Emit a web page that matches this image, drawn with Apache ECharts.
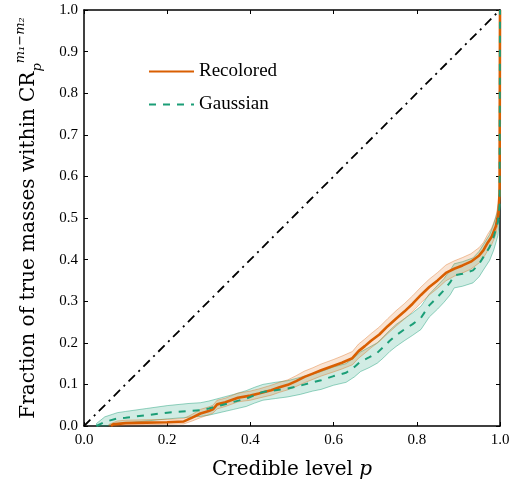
<!DOCTYPE html>
<html>
<head>
<meta charset="utf-8">
<script src="https://cdn.jsdelivr.net/npm/echarts@6/dist/echarts.min.js"></script>
<style>html,body{margin:0;padding:0;background:#fff}#c{width:526px;height:487px}</style>
</head>
<body>
<div id="c"></div>
<script>
// ---- data ----
var seriesNames = ['Recolored', 'Gaussian'];
var xTicks = [0, 0.2, 0.4, 0.6, 0.8, 1.0];
var yTicks = [0, 0.1, 0.2, 0.3, 0.4, 0.5, 0.6, 0.7, 0.8, 0.9, 1.0];
var diagonal = [[0, 0], [1, 1]];

var recolored = [[0.065,0],[0.07,0.004],[0.10,0.007],[0.15,0.008],[0.20,0.009],[0.24,0.011],[0.26,0.02],[0.28,0.03],[0.30,0.036],[0.31,0.04],[0.32,0.052],[0.34,0.057],[0.37,0.068],[0.40,0.073],[0.42,0.078],[0.45,0.086],[0.47,0.093],[0.49,0.099],[0.51,0.108],[0.53,0.118],[0.55,0.126],[0.57,0.134],[0.60,0.145],[0.62,0.152],[0.645,0.163],[0.66,0.18],[0.675,0.192],[0.69,0.205],[0.71,0.22],[0.73,0.24],[0.75,0.258],[0.77,0.275],[0.79,0.294],[0.81,0.315],[0.83,0.334],[0.85,0.35],[0.87,0.368],[0.89,0.378],[0.91,0.386],[0.93,0.395],[0.95,0.41],[0.96,0.422],[0.97,0.44],[0.98,0.455],[0.99,0.48],[0.996,0.51],[0.999,0.56],[1.0,1.0]];

var gaussian = [[0.03,0],[0.05,0.01],[0.08,0.018],[0.10,0.02],[0.15,0.026],[0.20,0.032],[0.25,0.036],[0.28,0.038],[0.30,0.042],[0.33,0.05],[0.36,0.058],[0.39,0.066],[0.41,0.074],[0.43,0.082],[0.46,0.086],[0.49,0.09],[0.52,0.097],[0.55,0.105],[0.57,0.11],[0.60,0.12],[0.63,0.128],[0.65,0.142],[0.665,0.155],[0.685,0.165],[0.705,0.176],[0.72,0.19],[0.735,0.205],[0.75,0.218],[0.77,0.232],[0.79,0.245],[0.81,0.26],[0.83,0.29],[0.85,0.31],[0.865,0.326],[0.88,0.345],[0.89,0.362],[0.91,0.366],[0.935,0.374],[0.95,0.39],[0.96,0.406],[0.975,0.43],[0.985,0.455],[0.995,0.49],[0.999,0.53],[1.0,1.0]];

// bands: [p, lower, upper]
var recoloredBand = [[0.06,0,0.004],[0.08,0,0.012],[0.10,0.002,0.014],[0.15,0.003,0.015],[0.20,0.004,0.016],[0.24,0.005,0.018],[0.26,0.012,0.028],[0.28,0.02,0.04],[0.30,0.027,0.046],[0.31,0.031,0.05],[0.32,0.041,0.062],[0.34,0.047,0.067],[0.37,0.058,0.079],[0.40,0.062,0.084],[0.42,0.067,0.089],[0.45,0.074,0.098],[0.47,0.081,0.105],[0.49,0.087,0.111],[0.51,0.095,0.121],[0.53,0.104,0.132],[0.55,0.112,0.14],[0.57,0.12,0.149],[0.60,0.13,0.16],[0.62,0.137,0.168],[0.645,0.147,0.179],[0.66,0.163,0.197],[0.675,0.175,0.209],[0.69,0.188,0.222],[0.71,0.203,0.238],[0.73,0.222,0.258],[0.75,0.24,0.277],[0.77,0.257,0.294],[0.79,0.275,0.313],[0.81,0.296,0.334],[0.83,0.315,0.353],[0.85,0.331,0.369],[0.87,0.349,0.387],[0.89,0.36,0.397],[0.91,0.368,0.405],[0.93,0.377,0.414],[0.95,0.392,0.429],[0.96,0.404,0.441],[0.97,0.421,0.46],[0.98,0.436,0.476],[0.99,0.46,0.502],[0.996,0.49,0.535],[0.999,0.52,0.6]];

var gaussianBand = [[0.03,0,0.006],[0.05,0.0,0.022],[0.08,0.005,0.032],[0.10,0.007,0.035],[0.15,0.012,0.042],[0.20,0.017,0.049],[0.25,0.021,0.054],[0.28,0.023,0.056],[0.30,0.026,0.06],[0.33,0.033,0.068],[0.36,0.04,0.076],[0.39,0.047,0.085],[0.41,0.055,0.093],[0.43,0.062,0.1],[0.46,0.066,0.105],[0.49,0.07,0.109],[0.52,0.076,0.117],[0.55,0.084,0.125],[0.57,0.088,0.131],[0.60,0.098,0.142],[0.63,0.105,0.15],[0.65,0.118,0.165],[0.665,0.131,0.178],[0.685,0.14,0.189],[0.705,0.151,0.2],[0.72,0.164,0.215],[0.735,0.179,0.23],[0.75,0.191,0.244],[0.77,0.205,0.258],[0.79,0.218,0.272],[0.81,0.232,0.288],[0.83,0.262,0.317],[0.85,0.281,0.338],[0.865,0.297,0.354],[0.88,0.315,0.374],[0.89,0.332,0.39],[0.91,0.336,0.395],[0.935,0.344,0.404],[0.95,0.359,0.42],[0.96,0.375,0.436],[0.975,0.398,0.46],[0.985,0.423,0.486],[0.995,0.458,0.52],[0.999,0.5,0.56]];

// ---- chart ----
var FONT = 'Liberation Serif';
var TFONT = 'DejaVu Serif';
var ORANGE = '#d95f02', GREEN = '#1b9e77';

function bandSeries(band, fill, stroke) {
  return {
    type: 'custom', silent: true, z: 1,
    data: [[0]],
    renderItem: function (params, api) {
      var pts = [], i;
      for (i = 0; i < band.length; i++) pts.push(api.coord([band[i][0], band[i][2]]));
      for (i = band.length - 1; i >= 0; i--) pts.push(api.coord([band[i][0], band[i][1]]));
      return { type: 'polygon', shape: { points: pts }, style: { fill: fill, stroke: stroke, lineWidth: 1 } };
    }
  };
}

function mkAxis(extra) {
  var a = {
    type: 'value', min: 0, max: 1,
    axisLine: { show: true, onZero: false, lineStyle: { color: '#000', width: 1.5 } },
    axisTick: { show: true, inside: true, length: 4, lineStyle: { color: '#000', width: 1 } },
    splitLine: { show: false }
  };
  for (var k in extra) a[k] = extra[k];
  return a;
}

function fmt(v) { return v.toFixed(1); }

var option = {
  animation: false,
  backgroundColor: '#fff',
  grid: { left: 84, right: 26, top: 10, bottom: 61, containLabel: false },
  legend: {
    data: seriesNames, orient: 'vertical', left: 143, top: 57,
    itemWidth: 45, itemHeight: 20, itemGap: 14,
    itemStyle: { opacity: 0 },
    textStyle: { fontFamily: FONT, fontSize: 19, color: '#000' }
  },
  xAxis: [
    mkAxis({
      position: 'bottom', interval: 0.2,
      axisLabel: { formatter: fmt, fontFamily: FONT, fontSize: 15, color: '#000', margin: 7 },
      name: 'Credible level {i|p}', nameLocation: 'middle', nameGap: 34,
      nameTextStyle: { fontFamily: TFONT, fontSize: 20, color: '#000', rich: { i: { fontFamily: TFONT, fontSize: 20, fontStyle: 'italic', color: '#000' } } }
    }),
    mkAxis({ position: 'top', interval: 0.2, axisLabel: { show: false } })
  ],
  yAxis: [
    mkAxis({
      position: 'left', interval: 0.1,
      axisLabel: { formatter: fmt, fontFamily: FONT, fontSize: 15, color: '#000', margin: 6 },
      name: 'Fraction of true masses within CR{sub|p}{sup|m₁−m₂}', nameLocation: 'middle', nameGap: 40,
      nameTextStyle: {
        fontFamily: TFONT, fontSize: 20, color: '#000', lineHeight: 30,
        rich: {
          sub: { fontFamily: TFONT, fontSize: 13, fontStyle: 'italic', color: '#000', lineHeight: 16, verticalAlign: 'bottom' },
          sup: { fontFamily: TFONT, fontSize: 13, fontStyle: 'italic', color: '#000', lineHeight: 14, verticalAlign: 'top' }
        }
      }
    }),
    mkAxis({ position: 'right', interval: 0.1, axisLabel: { show: false } })
  ],
  series: [
    bandSeries(gaussianBand, 'rgba(27,158,119,0.2)', 'rgba(27,158,119,0.45)'),
    bandSeries(recoloredBand, 'rgba(217,95,2,0.17)', 'rgba(217,95,2,0.35)'),
    {
      name: 'diag', type: 'line', data: diagonal, symbol: 'none', silent: true, z: 2,
      lineStyle: { color: '#000', width: 1.8, type: [9, 5, 2, 5] }
    },
    {
      name: 'Recolored', type: 'line', data: recolored, symbol: 'none', z: 3,
      itemStyle: { color: ORANGE },
      lineStyle: { color: ORANGE, width: 2.6 }
    },
    {
      name: 'Gaussian', type: 'line', data: gaussian, symbol: 'none', z: 4,
      itemStyle: { color: GREEN },
      lineStyle: { color: GREEN, width: 2, type: [7, 7] }
    }
  ]
};
var chart = echarts.init(document.getElementById('c'), null, { renderer: 'canvas' });
chart.setOption(option);
</script>
</body>
</html>
